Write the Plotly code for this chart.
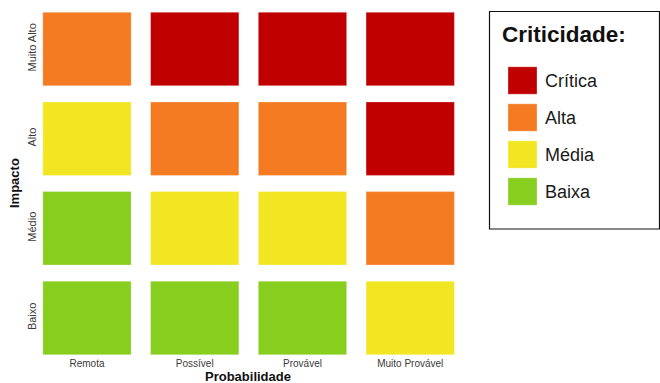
import plotly.graph_objects as go

# ---- data ----
probabilidade = ["Remota", "Possível", "Provável", "Muito Provável"]
impacto = ["Baixo", "Médio", "Alto", "Muito Alto"]
# criticidade per impact row (bottom -> top), per probability column
matriz = [
    ["Baixa", "Baixa", "Baixa", "Média"],        # Baixo
    ["Baixa", "Média", "Média", "Alta"],         # Médio
    ["Média", "Alta", "Alta", "Crítica"],        # Alto
    ["Alta", "Crítica", "Crítica", "Crítica"],   # Muito Alto
]
niveis = ["Baixa", "Média", "Alta", "Crítica"]   # legend bottom -> top
cores = {"Crítica": "#C00000", "Alta": "#F47B22", "Média": "#F2E622", "Baixa": "#87CE1E"}

W, H = 660, 383
def fx(px): return px / W
def fy(py): return 1 - py / H

tile = 0.82
xs, bases, hs, cs = [], [], [], []
for r, row in enumerate(matriz):
    for c, nivel in enumerate(row):
        xs.append(c)
        bases.append(r - tile / 2)
        hs.append(tile)
        cs.append(cores[nivel])

fig = go.Figure()
fig.add_trace(go.Bar(
    x=xs, y=hs, base=bases, width=tile,
    marker=dict(color=cs, line=dict(color="rgba(255,255,255,0.5)", width=0.6)),
    showlegend=False, hoverinfo="skip", xaxis="x", yaxis="y",
))

# legend as a small subplot
leg_h = 0.74
fig.add_trace(go.Bar(
    x=[0] * len(niveis), y=[leg_h] * len(niveis),
    base=[i - leg_h / 2 for i in range(len(niveis))], width=1,
    marker=dict(color=[cores[n] for n in niveis], line=dict(color="rgba(255,255,255,0.5)", width=0.6)),
    showlegend=False, hoverinfo="skip", xaxis="x2", yaxis="y2",
))

tick_font = dict(family="Liberation Sans, Arial, sans-serif", color="#3a3a3a")

fig.update_layout(
    width=W, height=H,
    margin=dict(l=0, r=0, t=0, b=0),
    paper_bgcolor="white", plot_bgcolor="white",
    barmode="overlay",
    font=dict(family="Liberation Sans, Arial, sans-serif"),
    xaxis=dict(
        domain=[fx(40), fx(475)], range=[-0.436, 3.601],
        tickvals=list(range(4)), ticktext=probabilidade,
        tickfont=dict(size=10, **tick_font),
        showgrid=False, zeroline=False, showline=False, ticks="",
        anchor="y", fixedrange=True,
    ),
    yaxis=dict(
        domain=[fy(356), fy(5)], range=[-0.424, 3.491],
        tickvals=list(range(4)), ticktext=impacto, tickangle=-90,
        tickfont=dict(size=11, **tick_font),
        showgrid=False, zeroline=False, showline=False, ticks="",
        ticklabelstandoff=1,
        anchor="x", fixedrange=True,
    ),
    xaxis2=dict(
        domain=[fx(508), fx(537)], range=[-0.5, 0.5],
        showticklabels=False, showgrid=False, zeroline=False, showline=False,
        anchor="y2", fixedrange=True,
    ),
    yaxis2=dict(
        domain=[fy(210), fy(62)], range=[-0.5, 3.5],
        tickvals=list(range(len(niveis))), ticktext=niveis, side="right",
        tickfont=dict(size=18, family="Liberation Sans, Arial, sans-serif", color="#1a1a1a"),
        showgrid=False, zeroline=False, showline=False, ticks="",
        ticklabelstandoff=7,
        anchor="x2", fixedrange=True,
    ),
    shapes=[dict(
        type="rect", xref="paper", yref="paper",
        x0=fx(489.5), x1=fx(659.5), y0=fy(229), y1=fy(11.5),
        line=dict(color="#111111", width=1.2), fillcolor="rgba(0,0,0,0)",
    )],
    annotations=[
        dict(text="<b>Criticidade:</b>", xref="paper", yref="paper",
             x=fx(500), y=fy(34), xanchor="left", yanchor="middle",
             showarrow=False, font=dict(size=22.5, color="#111111")),
        dict(text="<b>Impacto</b>", xref="paper", yref="paper",
             x=fx(14), y=fy(183), xanchor="center", yanchor="middle", textangle=-90,
             showarrow=False, font=dict(size=13, color="#111111")),
        dict(text="<b>Probabilidade</b>", xref="paper", yref="paper",
             x=fx(248), y=fy(367), xanchor="center", yanchor="top",
             showarrow=False, font=dict(size=13, color="#111111")),
    ],
)

fig.write_html("out.html", config={"displayModeBar": False})
